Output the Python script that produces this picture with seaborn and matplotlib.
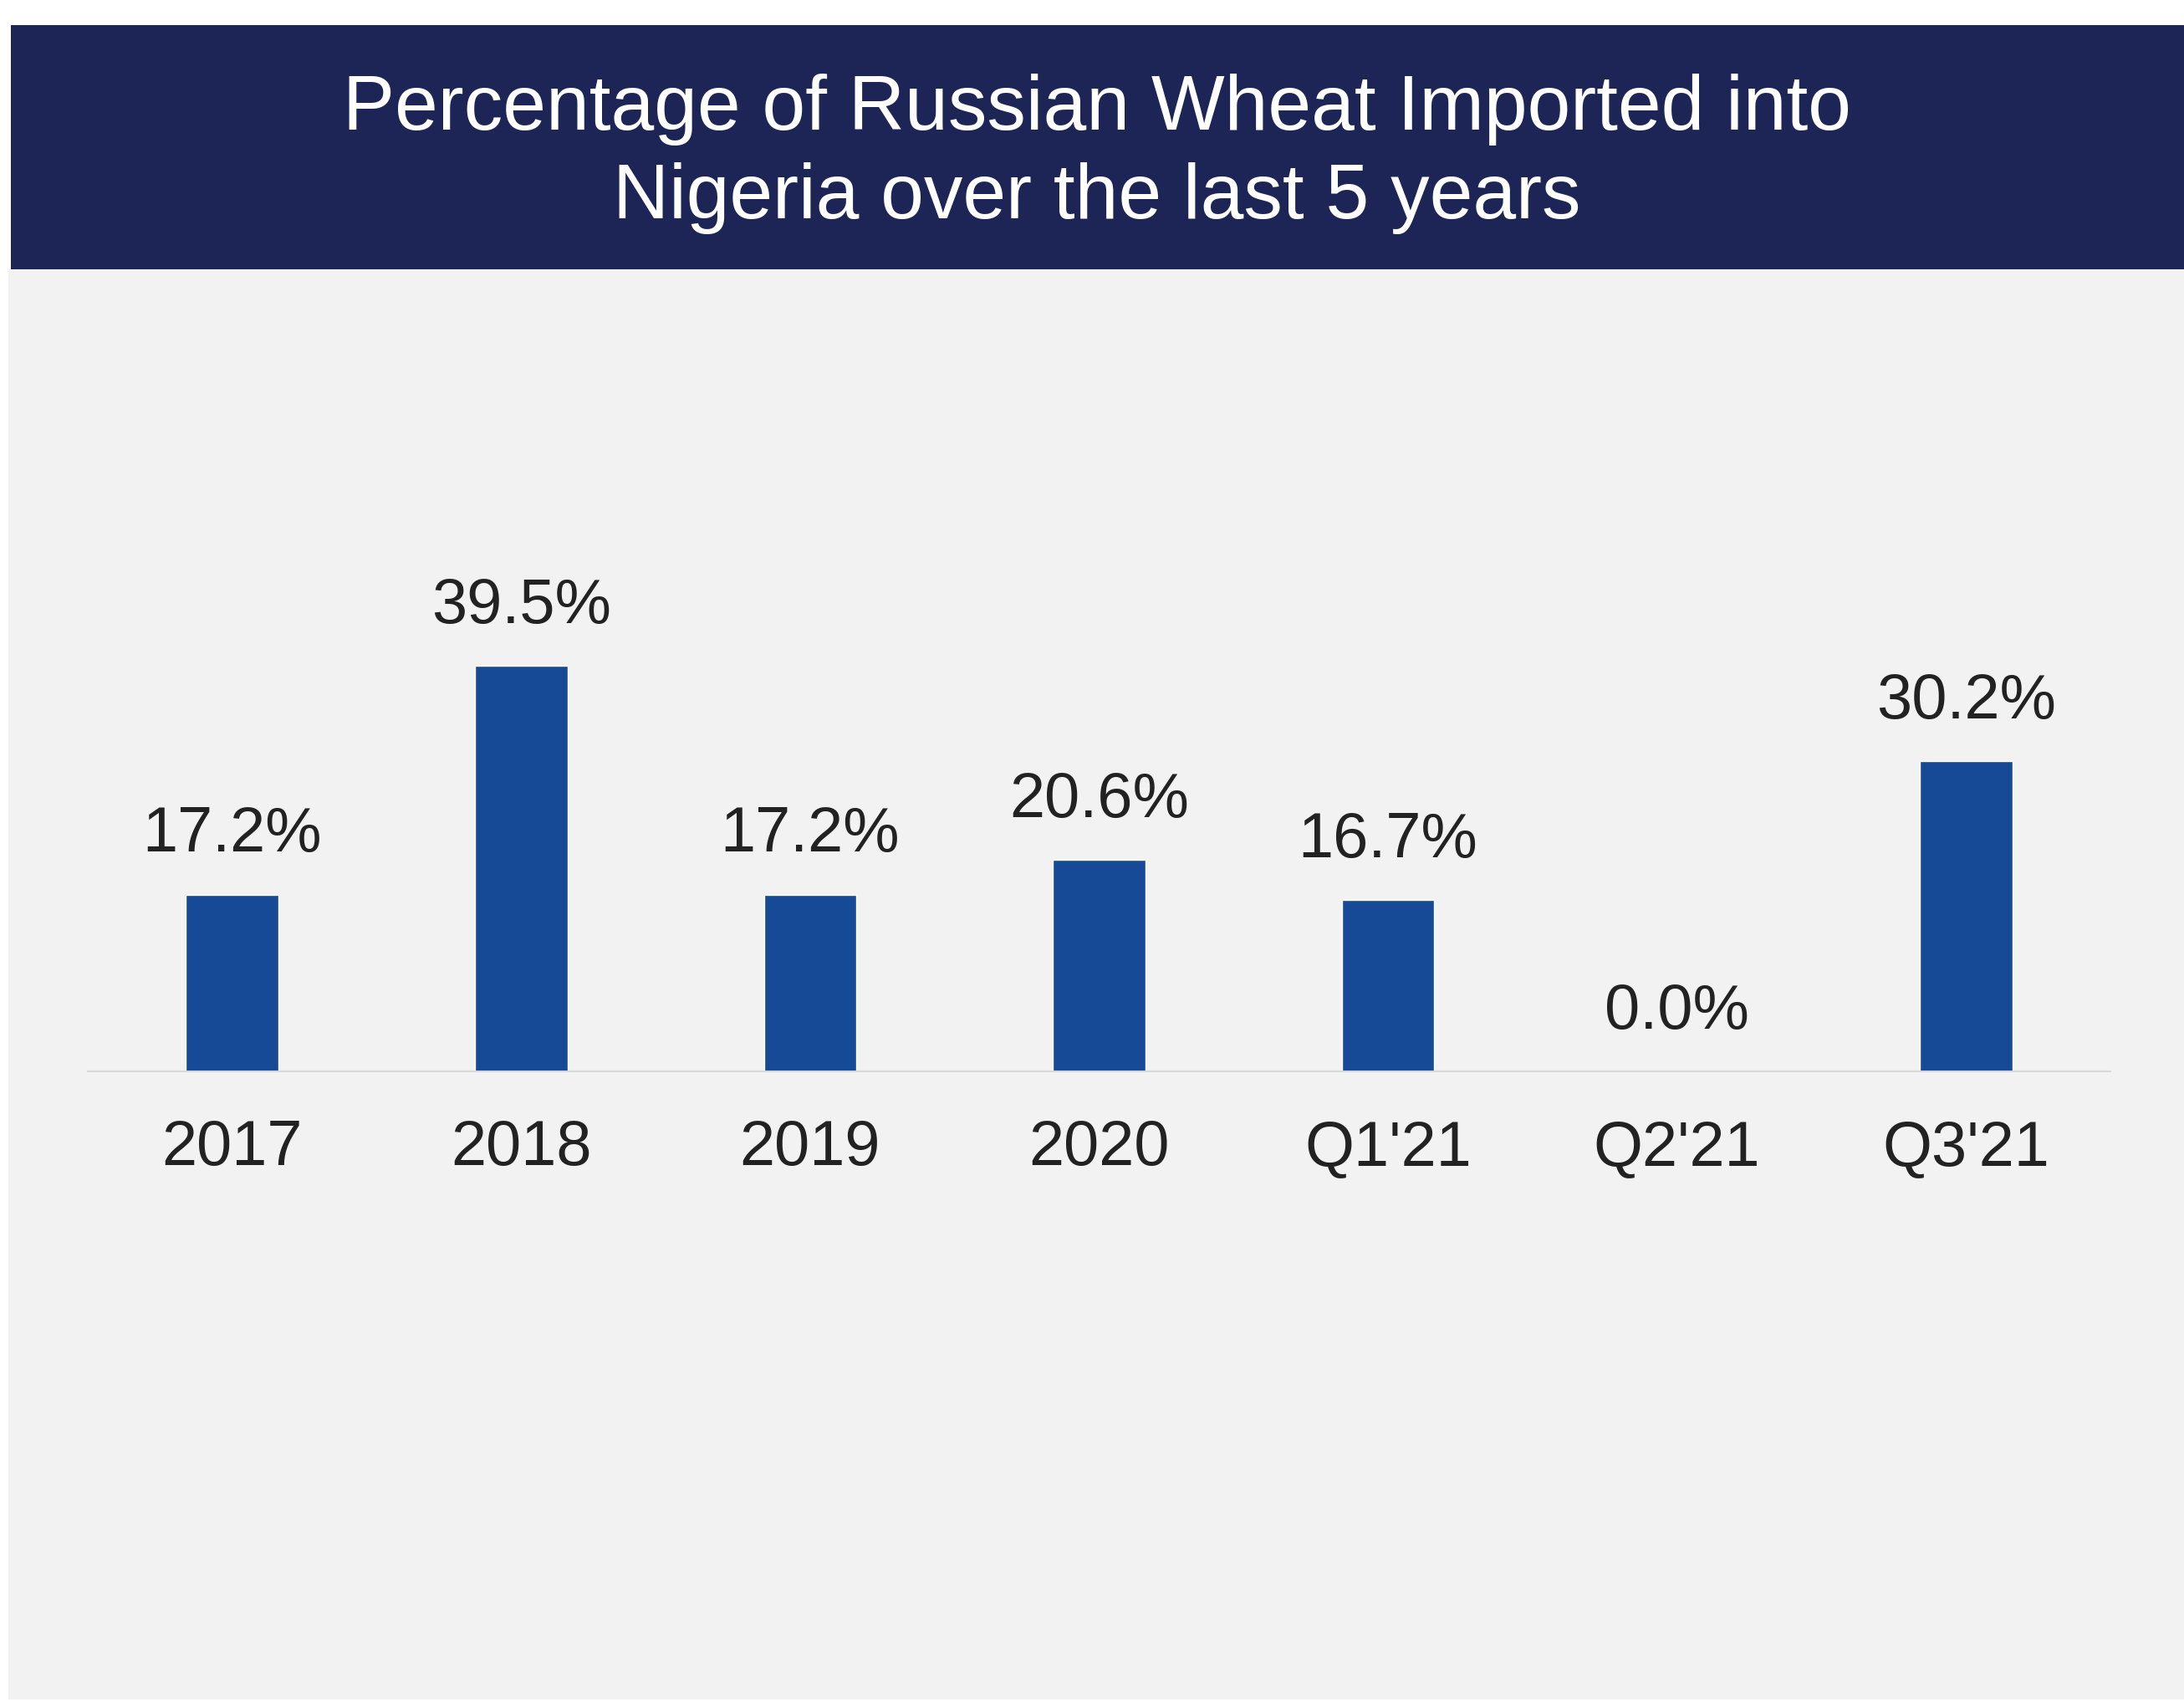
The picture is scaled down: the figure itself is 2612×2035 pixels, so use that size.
import matplotlib
matplotlib.use("Agg")
import matplotlib.pyplot as plt
import seaborn as sns
import pandas as pd
from matplotlib.patches import Rectangle

categories = ["2017", "2018", "2019", "2020", "Q1'21", "Q2'21", "Q3'21"]
values = [17.2, 39.5, 17.2, 20.6, 16.7, 0.0, 30.2]
value_labels = ["17.2%", "39.5%", "17.2%", "20.6%", "16.7%", "0.0%", "30.2%"]
title_text = "Percentage of Russian Wheat Imported into\nNigeria over the last 5 years"

sns.set_theme(style="white")
plt.rcParams['font.family'] = ['Liberation Sans', 'DejaVu Sans']

W, H = 2612, 2035
DPI = 100
fig = plt.figure(figsize=(W / DPI, H / DPI), dpi=DPI)
fig.patch.set_facecolor("white")

# gray panel and navy banner (figure coordinates)
fig.patches.append(Rectangle((10 / W, 1 - 2032 / H), (W - 10) / W, (2032 - 322) / H,
                             transform=fig.transFigure, facecolor="#f2f2f2",
                             edgecolor="none", zorder=-2))
fig.patches.append(Rectangle((13 / W, 1 - 322 / H), (W - 13) / W, (322 - 30) / H,
                             transform=fig.transFigure, facecolor="#1c2555",
                             edgecolor="none", zorder=-1))
fig.text(1312 / W, 1 - 184 / H, title_text, ha="center", va="center",
         color="white", fontsize=67, linespacing=1.29)

ax_left, ax_right = 105 / W, 2524 / W
ax_bottom, ax_top = 1 - 1281 / H, 1 - 322 / H
ax = fig.add_axes([ax_left, ax_bottom, ax_right - ax_left, ax_top - ax_bottom])
ax.set_facecolor("none")
ax.set_zorder(1)

df = pd.DataFrame({"cat": categories, "val": values})
sns.barplot(data=df, x="cat", y="val", color="#164a96", width=0.32,
            saturation=1, ax=ax)

ax.set_xlim(-0.5, 6.5)
ax.set_ylim(0, 78.1)
for i, (v, lab) in enumerate(zip(values, value_labels)):
    ax.annotate(lab, xy=(i, v), xytext=(0, 37), textcoords="offset points",
                ha="center", va="baseline", fontsize=54.5, color="#222222")

for s in ["top", "right", "left"]:
    ax.spines[s].set_visible(False)
ax.spines["bottom"].set_color("#d9d9d9")
ax.spines["bottom"].set_linewidth(1.5)
ax.set_yticks([])
ax.set_xlabel("")
ax.set_ylabel("")
ax.tick_params(axis="x", length=0, pad=41, labelsize=54.5, labelcolor="#222222")

fig.savefig("out.png", dpi=DPI)
